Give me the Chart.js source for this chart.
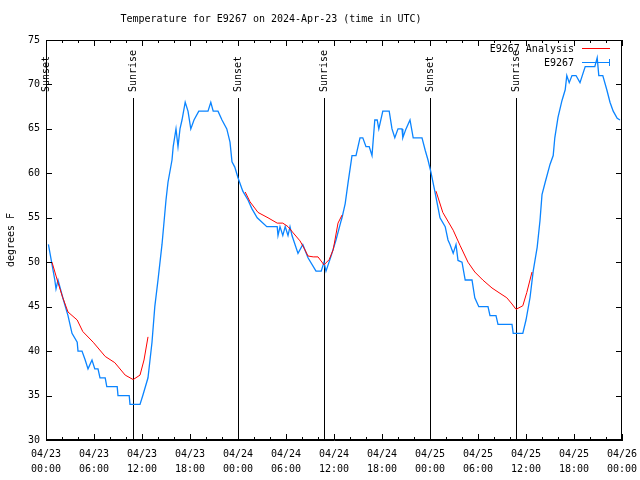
<!DOCTYPE html>
<html>
<head>
<meta charset="utf-8">
<style>
  html, body { margin: 0; padding: 0; background: #fff; }
  #wrap { width: 640px; height: 480px; }
</style>
<script src="https://cdn.jsdelivr.net/npm/chart.js@4/dist/chart.umd.min.js"></script>
</head>
<body>
<div id="wrap"><canvas id="myChart" width="640" height="480"></canvas></div>
<script>
// hours since 04/23 00:00 UTC
const obsHours = [0.3, 0.7, 1.1, 1.25, 1.5, 2.1, 2.75, 3.25, 3.9, 4.0, 4.5, 4.9, 5.25, 5.75, 6.1, 6.5, 6.75, 7.4, 7.6, 8.9,
  9.0, 10.4, 10.5, 11.75, 12.1, 12.75, 13.25, 13.6, 14.0, 14.5, 15.0, 15.25, 15.75, 15.9, 16.25, 16.5, 16.75, 17.0, 17.4, 17.75,
  18.1, 18.5, 19.1, 20.25, 20.6, 20.9, 21.5, 22.0, 22.6, 23.0, 23.25, 23.6, 24.0, 24.6, 25.25, 25.75, 26.4, 27.6, 28.9, 29.0,
  29.25, 29.6, 29.9, 30.25, 30.5, 30.75, 31.5, 32.1, 32.75, 33.75, 34.4, 34.75, 35.0, 35.6, 36.25, 36.9, 37.0, 37.4, 37.75, 38.25,
  38.75, 39.25, 39.6, 40.0, 40.4, 40.75, 41.1, 41.4, 41.6, 42.1, 42.9, 43.25, 43.6, 44.0, 44.5, 44.6, 45.0, 45.5, 45.9, 47.0,
  47.4, 47.75, 48.1, 48.6, 49.25, 49.9, 50.25, 50.5, 50.9, 51.25, 51.5, 52.0, 52.4, 53.25, 53.6, 54.1, 55.25, 55.5, 56.25, 56.5,
  58.25, 58.4, 59.6, 60.0, 60.5, 60.9, 61.4, 61.75, 62.0, 62.4, 63.0, 63.4, 63.6, 64.0, 64.5, 64.9, 65.1, 65.4, 65.75, 66.25,
  66.75, 67.4, 68.6, 68.9, 69.1, 69.6, 70.1, 70.5, 70.9, 71.4, 71.75];
const obsTemps = [52, 50, 48, 47, 48, 46, 44, 42, 41, 40, 40, 39, 38, 39, 38, 38, 37, 37, 36, 36,
  35, 35, 34, 34, 35, 37, 41, 45, 48, 52, 57, 59, 61.5, 63, 65, 63, 65, 66, 68, 67,
  65, 66, 67, 67, 68, 67, 67, 66, 65, 63.5, 61.3, 60.7, 59.5, 58, 57, 56, 55, 54, 54, 53,
  54, 53, 54, 53, 54, 53, 51, 52, 50.5, 49, 49, 50, 49, 50.6, 52.5, 54.7, 55, 56.6, 58.9, 62,
  62, 64, 64, 63, 63, 62, 66, 66, 65, 67, 67, 65, 64, 65, 65, 64, 65, 66, 64, 64,
  62.6, 61.5, 60.2, 58, 55, 54, 52.5, 52, 51, 52, 50.2, 50, 48, 48, 46, 45, 45, 44, 44, 43,
  43, 42, 42, 43.5, 46, 49, 51.7, 54.7, 57.6, 59, 61, 62, 64, 66.3, 68.2, 69.4, 71, 70.2, 71, 71,
  70.2, 72, 72, 73, 71, 71, 69.4, 68, 67, 66.2, 66];

// analysis: null temp breaks the line
const anaHours = [0.75, 1.5, 2.1, 2.75, 3.9, 4.6, 5.9, 7.4, 8.6, 9.9, 10.9, 11.75, 12.25, 12.75, 18,
  24.9, 25.5, 26.5, 27.75, 28.9, 29.6, 30.25, 30.9, 31.75, 32.25, 32.75, 33.4, 34.0, 34.75, 35.4, 35.9, 36.5, 37.0, 42,
  48.75, 49.6, 50.9, 51.75, 52.75, 53.6, 54.6, 55.75, 56.75, 57.6, 58.25, 58.75, 59.6, 60.1, 60.75];
const anaTemps = [50, 47.7, 46, 44.4, 43.5, 42.2, 41, 39.4, 38.7, 37.3, 36.8, 37.3, 39, 41.6, null,
  57.9, 56.8, 55.6, 55, 54.4, 54.4, 54, 53.3, 52.4, 51.6, 50.7, 50.6, 50.6, 49.7, 50.3, 51.4, 54.4, 55.3, null,
  58, 55.6, 53.6, 51.9, 50, 48.9, 48, 47.1, 46.5, 46, 45.3, 44.7, 45.1, 46.6, 48.9];

const eventHours = [0, 10.9, 24, 34.75, 48, 58.75];
const eventLabels = ['Sunset', 'Sunrise', 'Sunset', 'Sunrise', 'Sunset', 'Sunrise'];

const tickDays = ['04/23', '04/23', '04/23', '04/23', '04/24', '04/24', '04/24', '04/24', '04/25', '04/25', '04/25', '04/25', '04/26'];
const tickTimes = ['00:00', '06:00', '12:00', '18:00', '00:00', '06:00', '12:00', '18:00', '00:00', '06:00', '12:00', '18:00', '00:00'];

const FONT = '10px "DejaVu Sans Mono"';
const BLUE = '#0a84ff';

const obsData = obsHours.map((h, i) => ({ x: h, y: obsTemps[i] }));
const anaData = anaHours.map((h, i) => ({ x: h, y: anaTemps[i] }));

// sunrise/sunset lines, under the data
const eventLines = {
  id: 'eventLines',
  beforeDatasetsDraw(chart) {
    const { ctx, chartArea, scales } = chart;
    ctx.save();
    ctx.strokeStyle = '#000';
    ctx.lineWidth = 1;
    eventHours.forEach((h) => {
      const x = Math.round(scales.x.getPixelForValue(h)) + 0.5;
      ctx.beginPath();
      ctx.moveTo(x, 98);
      ctx.lineTo(x, chartArea.bottom);
      ctx.stroke();
    });
    ctx.restore();
  },
  afterDraw(chart) {
    const { ctx, chartArea, scales } = chart;
    ctx.save();
    ctx.fillStyle = '#000';
    ctx.font = FONT;
    // event labels, rotated
    eventHours.forEach((h, i) => {
      const x = Math.round(scales.x.getPixelForValue(h)) + 0.5;
      ctx.save();
      ctx.translate(x, 92);
      ctx.rotate(-Math.PI / 2);
      ctx.textAlign = 'left';
      ctx.textBaseline = 'middle';
      ctx.fillText(eventLabels[i], 0, 0);
      ctx.restore();
    });

    // inward ticks, all four sides
    ctx.strokeStyle = '#000';
    ctx.lineWidth = 1;
    ctx.beginPath();
    for (let h = 0; h <= 72; h += 2) {
      const x = Math.round(scales.x.getPixelForValue(h)) + 0.5;
      const len = h % 6 === 0 ? 6 : 3;
      ctx.moveTo(x, chartArea.bottom);
      ctx.lineTo(x, chartArea.bottom - len);
      ctx.moveTo(x, chartArea.top);
      ctx.lineTo(x, chartArea.top + len);
    }
    for (let v = 30; v <= 75; v += 5) {
      const y = Math.round(scales.y.getPixelForValue(v)) + 0.5;
      ctx.moveTo(chartArea.left, y);
      ctx.lineTo(chartArea.left + 6, y);
      ctx.moveTo(chartArea.right, y);
      ctx.lineTo(chartArea.right - 6, y);
    }
    ctx.stroke();

    // title and axis label
    ctx.textAlign = 'center';
    ctx.textBaseline = 'middle';
    ctx.fillText('Temperature for E9267 on 2024-Apr-23 (time in UTC)', 271, 19);
    ctx.save();
    ctx.translate(11, 240);
    ctx.rotate(-Math.PI / 2);
    ctx.fillText('degrees F', 0, 0);
    ctx.restore();

    // legend
    ctx.textAlign = 'right';
    ctx.fillText('E9267 Analysis', 574, 49);
    ctx.fillText('E9267', 574, 63);
    ctx.strokeStyle = '#ff0000';
    ctx.beginPath();
    ctx.moveTo(582, 48.5);
    ctx.lineTo(610, 48.5);
    ctx.stroke();
    ctx.strokeStyle = BLUE;
    ctx.beginPath();
    ctx.moveTo(582, 62.5);
    ctx.lineTo(610, 62.5);
    ctx.moveTo(609.5, 59);
    ctx.lineTo(609.5, 66);
    ctx.stroke();
    ctx.restore();
  }
};

const ctx = document.getElementById('myChart');

new Chart(ctx, {
  type: 'line',
  data: {
    datasets: [
      {
        label: 'E9267 Analysis',
        data: anaData,
        borderColor: '#ff0000',
        backgroundColor: '#ff0000',
        borderWidth: 1,
        pointRadius: 0,
        spanGaps: false,
      },
      {
        label: 'E9267',
        data: obsData,
        borderColor: BLUE,
        backgroundColor: BLUE,
        borderWidth: 1.3,
        pointRadius: 0,
      }
    ],
  },
  options: {
    responsive: false,
    animation: false,
    layout: { padding: { left: 0, right: 18, top: 40, bottom: 0 } },
    plugins: {
      legend: { display: false },
      title: { display: false },
      tooltip: { enabled: false }
    },
    scales: {
      x: {
        type: 'linear',
        min: 0,
        max: 72,
        afterFit(scale) {
          scale.height = 40;
          scale.paddingLeft = 0;
          scale.paddingRight = 0;
        },
        grid: { drawOnChartArea: false, drawTicks: false },
        border: { color: '#000', width: 1 },
        ticks: {
          stepSize: 6,
          autoSkip: false,
          maxRotation: 0,
          padding: 7,
          color: '#000',
          font: { family: 'DejaVu Sans Mono', size: 10, lineHeight: 1.5 },
          callback: (v) => [tickDays[v / 6], tickTimes[v / 6]]
        }
      },
      y: {
        min: 30,
        max: 75,
        afterFit(scale) {
          scale.width = 46;
          scale.paddingTop = 0;
          scale.paddingBottom = 0;
        },
        grid: { drawOnChartArea: false, drawTicks: false },
        border: { color: '#000', width: 1 },
        ticks: {
          stepSize: 5,
          padding: 6,
          color: '#000',
          font: { family: 'DejaVu Sans Mono', size: 10 }
        }
      }
    }
  },
  plugins: [eventLines, {
    id: 'rightTopBorder',
    afterDraw(chart) {
      const { ctx, chartArea } = chart;
      ctx.save();
      ctx.strokeStyle = '#000';
      ctx.lineWidth = 1;
      ctx.strokeRect(chartArea.left + 0.5, chartArea.top + 0.5, chartArea.right - chartArea.left - 1, chartArea.bottom - chartArea.top - 1);
      ctx.restore();
    }
  }]
});
</script>
</body>
</html>
